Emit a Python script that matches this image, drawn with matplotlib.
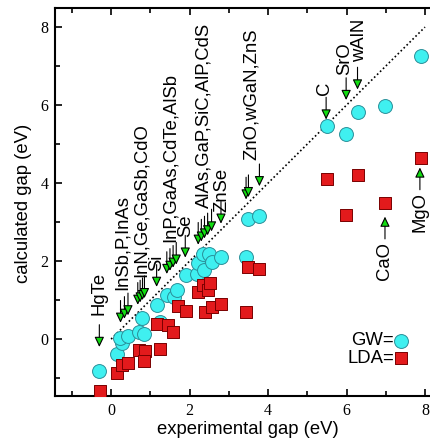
import matplotlib
matplotlib.use("Agg")
import matplotlib.pyplot as plt

gw_exp = [-0.30, 0.16, 0.27, 0.22, 0.42, 0.70, 0.84, 0.79, 1.16, 1.24, 1.42,
          1.60, 1.69, 1.90, 2.20, 2.22, 2.37, 2.35, 2.50, 2.56, 2.79, 3.45,
          3.50, 3.78, 5.49, 5.99, 6.28, 6.98, 7.89]
gw_calc = [-0.81, -0.38, -0.11, 0.02, 0.09, 0.19, 0.14, 0.53, 0.87, 0.43, 1.13,
           1.08, 1.26, 1.64, 1.68, 1.94, 1.78, 2.19, 2.19, 1.97, 2.11, 2.11,
           3.09, 3.15, 5.46, 5.25, 5.81, 5.97, 7.26]

lda_exp = [-0.29, 0.16, 0.27, 0.44, 0.70, 0.86, 0.84, 1.25, 1.16, 1.46, 1.59,
           1.70, 1.91, 2.22, 2.35, 2.48, 2.52, 2.39, 2.56, 2.80, 3.45, 3.50,
           3.78, 5.49, 5.99, 6.28, 6.98, 7.89]
lda_calc = [-1.32, -0.86, -0.67, -0.61, -0.28, -0.31, -0.56, -0.26, 0.38, 0.37,
            0.19, 0.86, 0.73, 1.21, 1.40, 1.25, 1.43, 0.69, 0.83, 0.90, 0.70,
            1.85, 1.79, 4.10, 3.18, 4.20, 3.50, 4.64]

# labelled materials (arrows pointing down onto the diagonal)
group_labels = ["HgTe", "InSb,P,InAs", "InN,Ge,GaSb,CdO", "Si",
                "InP,GaAs,CdTe,AlSb", "Se", "AlAs,GaP,SiC,AlP,CdS", "ZnSe",
                "ZnO,wGaN,ZnS", "C", "SrO", "wAlN"]
group_gaps = [[-0.30], [0.24, 0.34, 0.43], [0.68, 0.74, 0.80, 0.85], [1.16],
              [1.42, 1.50, 1.58, 1.66], [1.89], [2.22, 2.30, 2.38, 2.46, 2.56],
              [2.80], [3.44, 3.50, 3.78], [5.48], [5.99], [6.28]]
# layout: label anchor (x, bottom) and arrow tip offset above y=x
label_pos = [(-0.31, 0.62), (0.28, 1.26), (0.76, 1.59), (1.17, 1.74),
             (1.50, 2.49), (1.91, 2.62), (2.37, 3.36), (2.83, 3.26),
             (3.57, 4.59), (5.45, 6.26), (5.96, 6.77), (6.34, 7.10)]
tip_off = [0.10, 0.18, 0.20, 0.18, 0.25, 0.20, 0.20, 0.16, 0.14, 0.15, 0.14, 0.12]

# materials labelled below their LDA point (arrows pointing up)
up_labels = ["CaO", "MgO"]
up_gaps = [6.98, 7.87]
up_tips = [3.14, 4.40]
up_label_top = [2.49, 3.77]

cyan = "#3ff0f0"
red = "#e31a1c"
green = "#11dd11"
arrow_len = 0.57

plt.rcParams["font.family"] = ["Liberation Sans", "DejaVu Sans"]

fig = plt.figure(figsize=(4.31, 4.42), dpi=100)
ax = fig.add_axes([0.1276, 0.103, 0.904, 0.879])

ax.plot([0, 8], [0, 8], color="black", lw=1.2, ls=(0, (1, 1.5)), zorder=1)

ax.scatter(gw_exp, gw_calc, s=100, marker="o", facecolor=cyan,
           edgecolor="#2a8f99", linewidth=0.7, zorder=3)
ax.scatter(lda_exp, lda_calc, s=72, marker="s", facecolor=red,
           edgecolor="#7a0000", linewidth=0.7, zorder=4)

aprops = dict(arrowstyle="-|>,head_length=0.5,head_width=0.24",
              fc=green, ec="black", lw=0.8, shrinkA=0, shrinkB=0,
              mutation_scale=12)

for lab, gaps, (lx, ly), off in zip(group_labels, group_gaps, label_pos, tip_off):
    for g in gaps:
        tip = g + off
        ax.annotate("", xy=(g, tip), xytext=(g, tip + arrow_len),
                    arrowprops=aprops, zorder=5)
    ax.text(lx, ly, lab, rotation=90, ha="center", va="bottom",
            fontsize=13.3, zorder=6)

for lab, g, tip, top in zip(up_labels, up_gaps, up_tips, up_label_top):
    ax.annotate("", xy=(g, tip), xytext=(g, tip - arrow_len),
                arrowprops=aprops, zorder=5)
    ax.text(g, top, lab, rotation=90, ha="center", va="top",
            fontsize=13.3, zorder=6)

# legend drawn as text followed by the marker
ax.text(7.21, -0.04, "GW=", ha="right", va="center", fontsize=13.3)
ax.text(7.21, -0.49, "LDA=", ha="right", va="center", fontsize=13.3)
ax.scatter([7.38], [-0.04], s=100, marker="o", facecolor=cyan,
           edgecolor="#2a8f99", linewidth=0.7, zorder=3)
ax.scatter([7.38], [-0.49], s=72, marker="s", facecolor=red,
           edgecolor="#7a0000", linewidth=0.7, zorder=4)

ax.set_xlim(-1.43, 8.5)
ax.set_ylim(-1.47, 8.49)
ax.set_xticks([0, 2, 4, 6, 8])
ax.set_yticks([0, 2, 4, 6, 8])
ax.set_xticks(range(-1, 9), minor=True)
ax.set_yticks(range(-1, 9), minor=True)
ax.tick_params(which="both", direction="in", top=True, right=True, width=1.2)
ax.tick_params(which="major", length=5)
ax.tick_params(which="minor", length=3.3)
ax.tick_params(axis="x", pad=5)
ax.tick_params(axis="y", pad=4.5)
for t in ax.get_xticklabels() + ax.get_yticklabels():
    t.set_fontfamily("Liberation Serif")
    t.set_fontsize(11.5)
for sp in ax.spines.values():
    sp.set_linewidth(1.5)

fig.text(247.5 / 431, 1 - 430 / 442, "experimental gap (eV)", ha="center",
         va="center", fontsize=13.3)
fig.text(24 / 431, 1 - 203 / 442, "calculated gap (eV)", ha="center",
         va="center", rotation=90, fontsize=13.3)

fig.savefig("out.png", dpi=100)
